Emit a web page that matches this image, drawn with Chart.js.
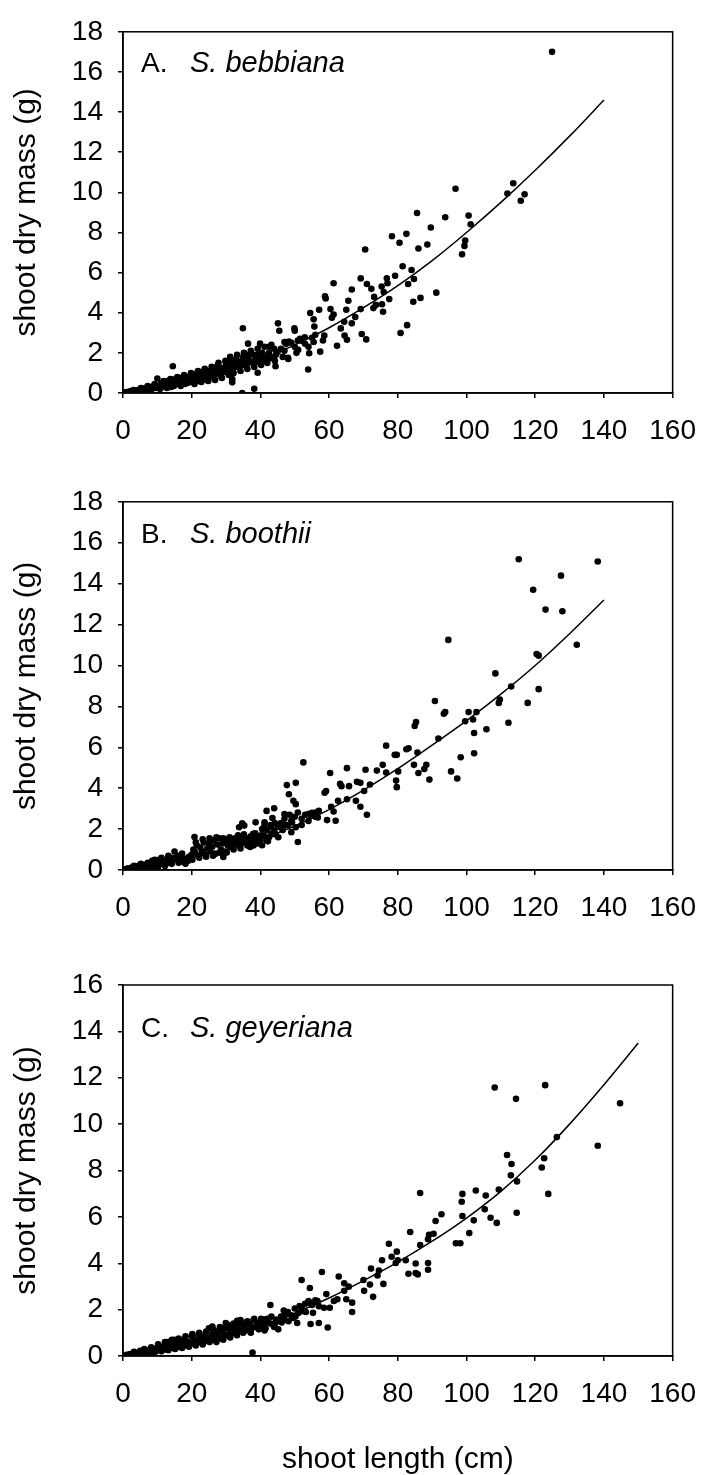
<!DOCTYPE html>
<html>
<head>
<meta charset="utf-8">
<script src="https://cdn.jsdelivr.net/npm/chart.js@4.4.1/dist/chart.umd.min.js"></script>
<style>
  body { margin: 0; background: #fff; }
  .wrap { position: relative; width: 712px; height: 1475px; overflow: hidden; }
  canvas { position: absolute; left: 0; }
</style>
</head>
<body>
<div class="wrap">
  <canvas id="chartA" width="712" height="470" style="top:0px"></canvas>
  <canvas id="chartB" width="712" height="470" style="top:470px"></canvas>
  <canvas id="chartC" width="712" height="535" style="top:940px"></canvas>
</div>
<script>
// fitted curve at these x values
const fitX = [0, 10, 20, 30, 40, 50, 60, 70, 80, 90, 100, 110, 120, 130, 140]
const fitXC = [0, 10, 20, 30, 40, 50, 60, 70, 80, 90, 100, 110, 120, 130, 140, 150]
const bebbianaFit = [0, 0.2, 0.55, 1.05, 1.65, 2.4, 3.25, 4.25, 5.35, 6.6, 8.0, 9.5, 11.1, 12.8, 14.6]
const boothiiFit = [0, 0.25, 0.6, 1.0, 1.5, 2.15, 2.95, 3.9, 4.95, 6.1, 7.3, 8.6, 10.0, 11.55, 13.2]
const geyerianaFit = [0, 0.25, 0.55, 0.9, 1.3, 1.85, 2.5, 3.25, 4.05, 4.95, 5.95, 7.1, 8.45, 10.0, 11.7, 13.5]

const xTicks = [0, 20, 40, 60, 80, 100, 120, 140, 160]

// A. S. bebbiana
const bebbianaPts = [
  [0.5,0.02],[1,0.05],[1.5,0.03],[2,0.08],[2.5,0.05],[3,0.1],[3.5,0.07],[4,0.14],[4.5,0.1],[5,0.18],
  [5.5,0.12],[6,0.22],[6.5,0.15],[7,0.28],[7.5,0.2],[8,0.3],[8.5,0.22],[9,0.35],[9.5,0.25],[10,0.72],
  [10.5,0.3],[11,0.45],[11.5,0.32],[12,0.5],[12.5,0.38],[13,0.6],[13.5,0.42],[14,0.3],[14.5,0.55],[15,0.68],
  [15.5,0.45],[16,0.6],[16.5,0.75],[17,0.5],[17.5,0.65],[18,0.45],[18.5,0.8],[19,0.62],[19.5,0.72],[20,0.55],
  [20.5,0.92],[21,0.7],[21.5,0.85],[22,0.6],[22.5,1.05],[23,0.8],[23.5,0.95],[24,0.68],[24.5,1.1],[25,0.9],
  [25.5,1.0],[26,0.78],[26.5,1.2],[27,0.95],[27.5,1.35],[28,1.1],[28.5,0.85],[29,1.25],[29.5,1.05],[30,1.5],
  [30.5,1.2],[31,1.35],[31.5,1.6],[32,1.15],[32.5,1.45],[33,1.7],[33.5,1.3],[34,1.55],[34.5,1.4],[35,1.8],
  [35.5,1.5],[36,1.3],[36.5,1.75],[37,1.55],[37.5,1.95],[38,1.45],[38.5,1.7],[39,1.9],[39.5,1.55],[40,1.8],
  [40.5,2.0],[41,1.65],[41.5,1.85],[42,1.5],[42.5,2.0],[43,1.75],[44,2.2],[44.5,1.9],[45,2.05],[46,2.2],
  [47,2.1],[48,1.75],[49,2.5],[50,2.3],[51,2.15],[52,2.6],[53,2.45],[55,2.75],
  [3,0.15],[4.2,0.05],[5.2,0.25],[6.3,0.08],[7.2,0.35],[8.2,0.15],[9.2,0.45],[10.8,0.2],[11.8,0.6],[12.8,0.25],
  [13.8,0.7],[14.8,0.35],[15.8,0.8],[16.8,0.35],[17.8,0.9],[18.8,0.5],[19.8,1.0],[20.8,0.45],[21.8,1.1],[22.8,0.55],
  [23.8,1.2],[24.8,0.6],[25.8,1.3],[26.8,0.65],[27.8,1.5],[28.8,0.75],[29.8,1.6],[30.8,0.9],[31.2,1.8],[32.2,1.0],
  [33.2,1.9],[34.2,1.1],[35.2,2.0],[36.2,1.2],[37.2,2.1],[38.2,1.3],[39.2,2.2],[40.2,1.4],[41.2,2.3],[42.2,1.7],
  [43.2,2.4],[44.2,1.6],[46.5,1.8],[47.5,2.45],[50.5,2.0],[51.5,2.7],[54,2.3],[56,2.9],
  [124.9,17.0],[96.8,10.18],[113.6,10.45],[111.9,9.94],[116.9,9.9],[115.8,9.58],[100.6,8.84],[101.2,8.41],
  [93.8,8.76],[85.6,8.97],[89.6,8.25],[78.3,7.81],[82.5,7.93],[80.5,7.49],[88.6,7.4],[86.0,7.2],
  [99.6,7.6],[99.4,7.33],[98.7,6.91],[70.5,7.15],[81.4,6.32],[84.0,6.13],[79.2,5.84],[84.7,5.68],
  [83.0,5.43],[76.8,5.72],[77.0,5.47],[69.2,5.71],[71.0,5.43],[72.3,5.19],[61.3,5.47],[66.6,5.16],
  [75.3,5.31],[75.9,5.03],[91.2,5.0],[86.6,4.74],[84.5,4.55],[77.5,4.68],[73.1,4.79],[58.8,4.82],
  [59.0,4.71],[73.6,4.39],[75.4,4.42],[75.7,4.05],[72.9,4.23],[65.6,4.6],[69.2,4.18],[65.0,4.15],
  [60.4,4.18],[57.1,4.15],[54.5,3.99],[61.3,3.91],[60.8,3.75],[55.5,3.67],[67.6,3.79],[66.6,3.47],
  [64.4,3.55],[55.7,3.31],[63.4,3.22],[34.9,3.23],[45.1,3.47],[45.5,3.1],[49.9,3.22],[50.0,3.1],
  [80.8,2.99],[82.7,3.38],[69.5,2.94],[70.8,2.67],[65.2,2.65],[64.5,2.86],[62.3,2.35],[58.2,2.62],
  [58.6,2.86],[57.4,2.06],[54.2,1.98],[53.9,1.17],[55.5,2.54],[36.4,2.46],[39.9,2.46],[42.5,2.3],
  [47.0,2.54],[48.3,2.57],[50.9,2.62],[52.9,2.78],[14.5,1.33],[34.7,0.0],[38.2,0.21],[31.8,0.69],
  [31.8,0.53],[39.2,1.01],[48.1,1.7],[44.4,1.33],[36.6,1.9]
]

// B. S. boothii
const boothiiPts = [
  [0.5,0.02],[1,0.05],[1.5,0.08],[2,0.04],[2.5,0.12],[3,0.1],[3.5,0.18],[4,0.12],[4.5,0.2],[5,0.15],
  [5.5,0.22],[6,0.18],[6.5,0.25],[7,0.2],[7.5,0.28],[8,0.22],[8.5,0.45],[9,0.3],[9.5,0.05],[10,0.35],
  [10.5,0.5],[11,0.3],[12,0.45],[12.5,0.3],[13,0.55],[13.5,0.4],[14,0.6],[14.5,0.45],[15,0.9],[15.5,0.55],
  [16,0.7],[16.5,0.5],[17,0.65],[17.5,0.4],[18,0.55],[19,0.45],[20,0.75],[20.5,1.0],[21,0.85],[21.5,1.2],
  [22,0.7],[22.5,1.1],[23,0.9],[23.5,1.35],[24,0.75],[24.5,1.05],[25,1.3],[25.5,0.9],[26,1.15],[26.5,1.45],
  [27,0.8],[27.5,1.25],[28,1.55],[28.5,1.0],[29,1.3],[29.5,0.9],[30,1.45],[30.5,1.2],[31,1.6],[31.5,1.1],
  [32,1.35],[32.5,1.55],[33,1.25],[33.5,1.7],[34,1.45],[34.5,1.3],[35,1.6],[35.5,1.4],[36,1.55],[37,1.35],
  [38,1.2],[38.5,1.8],[39,1.6],[40,1.45],[40.5,2.0],[41,1.7],[42,1.95],[42.5,1.6],[43,2.2],[44,1.9],
  [45,2.1],[46,2.3],[46.5,1.95],[47,2.5],[48,2.2],[48.5,2.7],[49,2.4],[50,2.6],[52,2.5],[53,2.7],
  [54,2.4],[55,2.8],[56,2.6],[57,2.9],
  [3.2,0.2],[4.2,0.05],[5.2,0.3],[6.2,0.1],[7.2,0.35],[8.2,0.1],[9.2,0.5],[10.2,0.15],[11.2,0.6],[12.2,0.2],
  [13.2,0.7],[14.2,0.3],[15.2,0.6],[16.2,0.35],[17.2,0.8],[18.2,0.3],[19.2,0.65],[20.2,0.5],[21.2,1.35],[22.2,0.6],
  [23.2,1.5],[24.2,0.65],[25.2,1.55],[26.2,0.7],[27.2,1.6],[28.2,0.85],[29.2,1.55],[30.2,0.85],[31.2,1.4],[32.2,1.0],
  [33.2,1.5],[34.2,1.05],[35.2,1.75],[36.2,1.2],[37.2,1.65],[38.2,1.5],[39.2,1.3],[40.2,1.7],[41.2,2.2],[42.2,1.4],
  [43.2,1.75],[44.2,2.3],[45.2,1.6],[46.2,2.05],[47.2,2.2],[52,2.2],[54.5,2.7],
  [115.2,15.19],[138.2,15.08],[119.4,13.7],[127.5,14.39],[123.0,12.73],[127.9,12.65],[132.1,11.01],[94.7,11.25],
  [120.4,10.56],[121.0,10.48],[108.4,9.61],[113.0,8.97],[121.0,8.84],[109.7,8.33],[109.4,8.17],[117.8,8.17],
  [90.8,8.26],[93.8,7.72],[93.4,7.64],[100.6,7.72],[102.9,7.72],[101.9,7.36],[99.6,7.27],[112.2,7.2],
  [85.3,7.23],[84.9,7.04],[105.8,6.88],[102.2,6.7],[91.8,6.43],[76.6,6.08],[82.5,5.9],[83.1,5.95],
  [79.1,5.63],[79.7,5.63],[85.7,5.74],[102.2,5.71],[98.3,5.51],[75.6,5.14],[84.7,5.14],[88.3,5.14],
  [87.7,4.94],[52.5,5.26],[86.0,4.74],[95.5,4.82],[97.3,4.47],[89.2,4.42],[65.2,4.98],[70.6,4.9],
  [73.9,4.86],[76.6,4.77],[80.1,4.82],[60.3,4.74],[79.5,4.37],[79.7,4.05],[50.3,4.26],[47.7,4.15],
  [59.1,3.86],[58.7,3.78],[63.2,4.21],[63.6,4.1],[65.8,4.1],[68.1,4.31],[69.1,4.26],[71.9,4.18],
  [70.2,3.86],[67.8,3.38],[65.2,3.46],[62.6,3.38],[69.1,3.09],[71.0,2.7],[48.3,3.7],[49.6,3.38],
  [50.3,3.22],[50.9,2.81],[50.9,1.37],[44.0,3.02],[60.6,3.09],[61.3,2.86],[61.9,2.41],[59.4,2.44],
  [56.1,2.81],[56.7,2.57],[53.9,2.73],[47.0,2.73],[49.2,2.33],[50.3,2.09],[49.0,1.85],[43.5,2.54],
  [41.8,2.89],[41.2,2.33],[43.1,2.12],[44.4,1.74],[41.8,1.45],[38.6,2.33],[35.3,2.17],[34.7,2.28],
  [33.8,2.09],[37.9,1.77],[20.8,1.61],[37.0,1.13],[29.2,0.64],[40.5,1.21]
]

// C. S. geyeriana
const geyerianaPts = [
  [0.5,0.02],[1,0.05],[1.5,0.03],[2,0.08],[2.5,0.05],[3,0.1],[3.5,0.06],[4,0.12],[4.5,0.08],[5,0.22],
  [5.5,0.1],[6,0.15],[6.5,0.25],[7,0.12],[7.5,0.2],[8,0.3],[8.5,0.18],[9,0.28],[9.5,0.2],[10,0.35],
  [10.5,0.25],[11,0.4],[11.5,0.3],[12,0.45],[12.5,0.28],[13,0.6],[13.5,0.38],[14,0.5],[14.5,0.35],[15,0.7],
  [15.5,0.45],[16,0.55],[16.5,0.4],[17,0.65],[17.5,0.5],[18,0.75],[18.5,0.45],[19,0.6],[19.5,0.5],[20,0.85],
  [20.5,0.6],[21,0.7],[21.5,0.55],[22,0.9],[22.5,0.65],[23,0.8],[23.5,0.6],[24,0.95],[24.5,0.7],[25,1.2],
  [25.5,0.8],[26,0.95],[26.5,0.7],[27,1.05],[27.5,0.85],[28,1.1],[28.5,0.75],[29,1.0],[29.5,1.2],[30,0.9],
  [30.5,1.35],[31,1.1],[31.5,0.95],[32,1.25],[32.5,1.05],[33,1.3],[33.5,1.5],[34,1.15],[34.5,1.4],[35,1.0],
  [35.5,1.3],[36,1.45],[36.5,1.1],[37,1.35],[37.5,1.2],[38,1.55],[38.5,1.25],[39,1.4],[39.5,1.15],[40,1.5],
  [40.5,1.3],[41,1.45],[41.5,1.2],[42,1.6],[43,1.4],[44,1.25],[45,1.5],[46,1.7],[47,1.55],[48,1.9],
  [49,1.75],[50,2.05],[51,1.85],[52,2.1],[53,2.25],[55,2.2],[56,2.4],[57,2.15],
  [3.2,0.18],[4.2,0.04],[5.2,0.12],[6.2,0.3],[7.2,0.08],[8.2,0.38],[9.2,0.15],[10.2,0.5],[11.2,0.2],[12.2,0.6],
  [13.2,0.25],[14.2,0.7],[15.2,0.3],[16.2,0.75],[17.2,0.35],[18.2,0.85],[19.2,0.4],[20.2,0.95],[21.2,0.45],[22.2,1.0],
  [23.2,0.5],[24.2,1.05],[25.2,0.6],[26.2,1.15],[27.2,0.6],[28.2,1.25],[29.2,0.7],[30.2,1.3],[31.2,0.8],[32.2,1.4],
  [33.2,0.9],[34.2,1.55],[35.2,1.2],[36.2,1.5],[37.2,1.0],[38.2,1.6],[39.2,1.3],[40.2,1.6],[41.2,1.1],[42.2,1.45],
  [43.2,1.7],[44.2,1.4],[45.2,1.15],[46.2,1.45],[47.2,1.9],[48.2,1.5],[50.2,1.7],[53.2,1.9],[54.2,2.3],
  [108.2,11.58],[122.9,11.68],[114.4,11.09],[144.7,10.9],[126.3,9.44],[138.2,9.07],[111.8,8.67],[122.6,8.53],
  [113.1,8.28],[121.9,8.13],[112.9,7.79],[114.7,7.53],[109.4,7.18],[102.7,7.14],[98.8,6.99],[123.8,6.99],
  [86.5,7.03],[105.6,6.92],[98.6,6.65],[105.3,6.33],[114.6,6.18],[92.7,6.11],[98.8,6.04],[107.0,5.96],
  [108.8,5.74],[91.0,5.82],[102.1,5.85],[100.8,5.3],[83.6,5.35],[90.4,5.27],[89.1,5.23],[88.8,5.04],
  [86.5,4.79],[96.9,4.86],[98.2,4.86],[77.4,4.84],[79.7,4.5],[78.2,4.28],[75.4,4.13],[80.0,4.13],
  [82.3,4.13],[79.4,4.01],[85.2,3.99],[88.8,4.01],[72.2,3.77],[74.5,3.69],[88.8,3.72],[85.2,3.58],
  [83.1,3.55],[85.8,3.52],[57.9,3.62],[74.1,3.47],[62.8,3.43],[52.0,3.28],[75.8,3.11],[64.4,3.14],
  [70.0,3.28],[71.9,3.08],[65.7,2.99],[54.4,2.93],[72.8,2.55],[70.2,2.81],[64.4,2.81],[66.7,2.3],
  [62.4,2.45],[65.0,2.45],[59.2,2.67],[61.4,2.37],[60.2,2.08],[56.6,2.37],[58.5,2.08],[54.0,2.37],
  [51.4,2.15],[52.0,1.93],[55.3,1.86],[66.7,1.9],[59.6,1.23],[57.0,1.42],[54.6,1.38],[42.9,2.2],
  [46.8,1.96],[47.5,1.79],[49.4,1.64],[50.7,1.42],[44.6,1.57],[43.6,1.35],[41.0,1.57],[37.7,0.15],
  [33.2,1.52],[29.9,1.42],[26.0,1.27]
]

const FONT = "'Liberation Sans', Arial, Helvetica, sans-serif"
Chart.defaults.font.family = FONT
Chart.defaults.color = '#000'

// box round the plot area
const frame = {
  id: 'frame',
  afterDraw(chart) {
    const { ctx, chartArea: a } = chart
    ctx.save()
    ctx.strokeStyle = '#000'
    ctx.lineWidth = 1.5
    ctx.strokeRect(a.left, a.top, a.right - a.left, a.bottom - a.top)
    ctx.restore()
  },
}

// "A.  S. bebbiana" style label inside the plot
const panelLabel = {
  id: 'panelLabel',
  afterDraw(chart, args, opts) {
    const ctx = chart.ctx
    ctx.save()
    ctx.fillStyle = '#000'
    ctx.textBaseline = 'alphabetic'
    ctx.font = '28px ' + FONT
    ctx.fillText(opts.letter, 141, opts.baseline)
    ctx.font = 'italic 29px ' + FONT
    ctx.fillText(opts.name, 190, opts.baseline)
    ctx.restore()
  },
}

function makeChart(id, pts, fx, fy, yMax, cfg) {
  const ctx = document.getElementById(id).getContext('2d')
  return new Chart(ctx, {
    type: 'scatter',
    data: {
      datasets: [
        {
          data: pts.map(p => ({ x: p[0], y: p[1] })),
          backgroundColor: '#000',
          borderWidth: 0,
          pointRadius: 3.3,
        },
        {
          type: 'line',
          data: fx.map((x, i) => ({ x: x, y: fy[i] })),
          borderColor: '#000',
          borderWidth: 1.5,
          pointRadius: 0,
          fill: false,
          cubicInterpolationMode: 'monotone',
        },
      ],
    },
    options: {
      responsive: false,
      animation: false,
      layout: { padding: { top: cfg.top, right: 29, left: 0, bottom: 0 } },
      plugins: {
        legend: { display: false },
        tooltip: { enabled: false },
        panelLabel: { letter: cfg.letter, name: cfg.name, baseline: cfg.baseline },
      },
      scales: {
        x: {
          type: 'linear',
          min: 0,
          max: 160,
          afterFit: s => { s.height = cfg.xHeight },
          afterBuildTicks: s => { s.ticks = xTicks.map(v => ({ value: v })) },
          grid: { drawOnChartArea: false, tickLength: 5, color: '#000', lineWidth: 1.5 },
          border: { color: '#000', width: 1.5 },
          ticks: { font: { size: 28 }, padding: 16, maxRotation: 0 },
          title: {
            display: cfg.showTitle,
            text: 'shoot length (cm)',
            font: { size: 30, lineHeight: 1 },
            padding: { top: 0, bottom: 0 },
          },
        },
        y: {
          min: 0,
          max: yMax,
          afterFit: s => { s.width = 123 },
          grid: { drawOnChartArea: false, tickLength: 5, color: '#000', lineWidth: 1.5 },
          border: { color: '#000', width: 1.5 },
          ticks: { stepSize: 2, font: { size: 28 }, padding: 15 },
          title: {
            display: true,
            text: 'shoot dry mass (g)',
            font: { size: 30, lineHeight: 1.2 },
            padding: { top: 9, bottom: 0 },
          },
        },
      },
    },
    plugins: [frame, panelLabel],
  })
}

makeChart('chartA', bebbianaPts, fitX, bebbianaFit, 18,
  { top: 20, xHeight: 77, letter: 'A.', name: 'S. bebbiana', baseline: 72, showTitle: false })
makeChart('chartB', boothiiPts, fitX, boothiiFit, 18,
  { top: 28, xHeight: 70, letter: 'B.', name: 'S. boothii', baseline: 73, showTitle: false })
makeChart('chartC', geyerianaPts, fitXC, geyerianaFit, 16,
  { top: 45, xHeight: 119, letter: 'C.', name: 'S. geyeriana', baseline: 97, showTitle: true })
</script>
</body>
</html>
